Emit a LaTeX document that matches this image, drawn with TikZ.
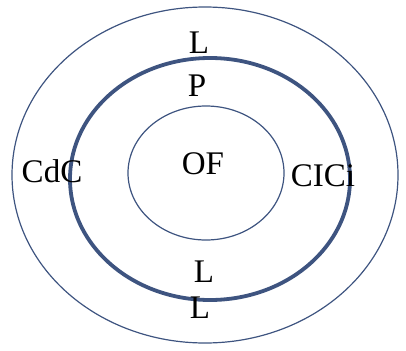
\documentclass[tikz,border=0pt]{standalone}
\usepackage{fontspec}
\setmainfont{Liberation Serif}
\definecolor{ringblue}{RGB}{62,84,128}
\begin{document}
\begin{tikzpicture}[x=1pt,y=-1pt,
  ring/.style={draw=ringblue,line width=1.2pt},
  thickring/.style={draw=ringblue,line width=3.8pt},
  lbl/.style={inner sep=0pt,font=\fontsize{33}{38}\selectfont}]
\useasboundingbox (0,0) rectangle (406,350);
\draw[ring] (205,175) ellipse (193 and 168);
\draw[thickring] (210,179) ellipse (140 and 121);
\draw[ring] (206,173) ellipse (78 and 67);
\node[lbl] (ltop) at (199,43) {L};
\node[lbl] (p) at (197,86) {P};
\node[lbl] (of) at (203,164) {OF};
\node[lbl] (cdc) at (52,171) {CdC};
\node[lbl] (cici) at (323,176) {CICi};
\node[lbl] (lin) at (204,272) {L};
\node[lbl] (lbot) at (200,308) {L};
\end{tikzpicture}
\end{document}
